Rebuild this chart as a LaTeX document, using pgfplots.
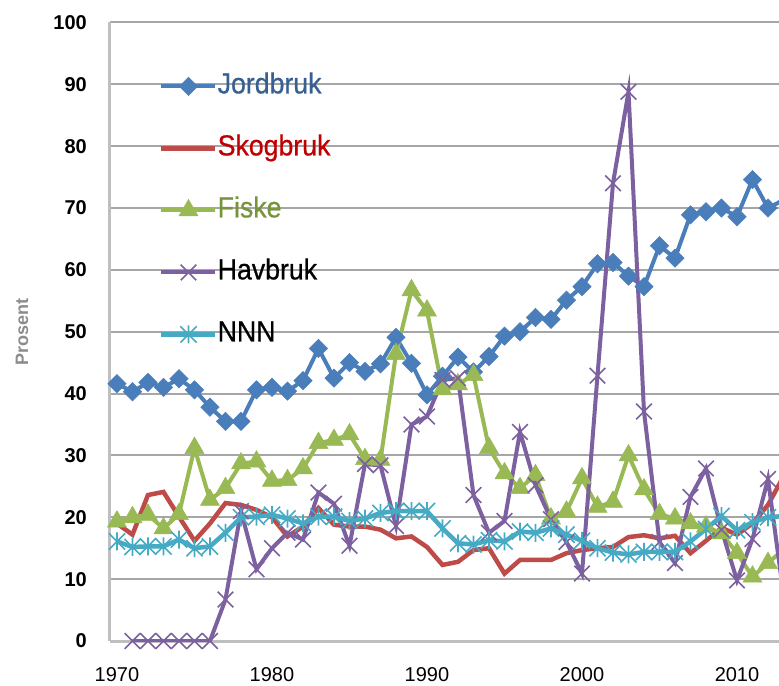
\documentclass[border=0pt]{standalone}
\usepackage{fontspec}
\setmainfont{Liberation Sans}
\newfontfamily\legfont{Liberation Sans}[FakeStretch=0.92, FakeBold=0.6]
\usepackage{pgfplots}
\pgfplotsset{compat=1.18}
\usepackage{pgfplotstable}
\definecolor{cJ}{HTML}{4A7EBB}
\definecolor{cS}{HTML}{BE4B48}
\definecolor{cF}{HTML}{98B954}
\definecolor{cH}{HTML}{7D60A0}
\definecolor{cN}{HTML}{46AAC5}
\definecolor{tJ}{HTML}{376092}
\definecolor{tS}{HTML}{C00000}
\definecolor{tF}{HTML}{77933C}
\definecolor{gridgray}{HTML}{A6A6A6}
\definecolor{axisgray}{HTML}{BFBFBF}
\definecolor{labelgray}{HTML}{8C8C8C}

\pgfdeclareplotmark{xast}{%
  \pgfpathmoveto{\pgfqpoint{0pt}{-\pgfplotmarksize}}%
  \pgfpathlineto{\pgfqpoint{0pt}{\pgfplotmarksize}}%
  \pgfpathmoveto{\pgfqpoint{-.9\pgfplotmarksize}{-.9\pgfplotmarksize}}%
  \pgfpathlineto{\pgfqpoint{.9\pgfplotmarksize}{.9\pgfplotmarksize}}%
  \pgfpathmoveto{\pgfqpoint{-.9\pgfplotmarksize}{.9\pgfplotmarksize}}%
  \pgfpathlineto{\pgfqpoint{.9\pgfplotmarksize}{-.9\pgfplotmarksize}}%
  \pgfusepathqstroke}

\pgfplotstableread{
year jord skog fiske hav nnn
1970 41.6 19.0 19.3 nan 16.1
1971 40.3 17.2 20.0 0 15.2
1972 41.8 23.6 20.4 0 15.3
1973 41.0 24.1 18.2 0 15.3
1974 42.4 20.1 20.5 0 16.4
1975 40.6 16.2 31.2 0 15.0
1976 37.8 19.0 22.8 0 15.3
1977 35.5 22.3 24.7 6.7 17.5
1978 35.5 22.0 28.7 21.0 20.0
1979 40.6 21.2 29.0 11.6 20.1
1980 41.0 20.0 25.9 15.0 20.4
1981 40.4 16.9 26.0 17.5 19.8
1982 42.1 18.5 27.9 16.4 19.0
1983 47.3 21.5 32.0 24.0 20.1
1984 42.5 18.8 32.5 22.2 20.1
1985 45.0 18.5 33.4 15.4 19.4
1986 43.6 18.5 29.4 28.6 19.8
1987 44.8 18.0 29.3 28.4 20.7
1988 49.1 16.6 46.4 18.6 21.0
1989 44.9 16.9 56.7 35.0 21.0
1990 39.8 15.2 53.4 36.3 21.0
1991 42.8 12.3 40.7 42.2 18.2
1992 45.9 12.8 41.5 42.5 15.8
1993 43.5 14.7 43.0 23.6 15.6
1994 46.0 15.0 31.2 17.5 16.3
1995 49.3 10.9 27.1 19.4 16.1
1996 50.0 13.1 24.7 33.8 17.7
1997 52.3 13.1 26.8 25.2 17.5
1998 52.0 13.1 19.8 19.7 18.2
1999 55.1 14.2 20.9 16.0 17.2
2000 57.3 14.7 26.3 10.9 16.2
2001 61.0 15.0 21.7 42.9 15.0
2002 61.2 15.2 22.5 74.0 14.3
2003 59.0 16.8 30.0 88.8 14.0
2004 57.3 17.1 24.5 37.1 14.4
2005 63.9 16.6 20.5 16.0 14.4
2006 61.9 17.0 19.8 12.6 14.4
2007 68.9 14.2 19.0 23.3 16.1
2008 69.4 16.2 18.5 27.9 18.1
2009 70.0 18.3 17.4 18.0 20.2
2010 68.6 17.2 14.2 9.8 17.9
2011 74.6 19.0 10.4 16.5 19.2
2012 70.0 22.0 12.6 26.2 20.0
2013 71.3 26.6 14.8 7.5 20.2
}\data

\begin{document}
\begin{tikzpicture}
\useasboundingbox (-110bp,-45bp) rectangle (669bp,641bp);
\begin{axis}[
  scale only axis, width=669bp, height=618.5bp,
  xmin=1969.55, xmax=2012.71, ymin=0, ymax=100,
  axis x line*=bottom, axis y line*=left,
  axis line style={-, draw=axisgray, line width=3bp},
  ymajorgrids, major grid style={draw=gridgray, line width=2bp},
  major tick length=0pt, tick style={draw=none},
  xtick={1970,1980,1990,2000,2010},
  xticklabels={1970,1980,1990,2000,2010},
  ytick={0,10,...,100},
  /pgf/number format/assume math mode=true,
  xticklabel style={font=\fontsize{20bp}{24bp}\selectfont, anchor=base, inner sep=0pt, yshift=-40bp},
  yticklabel style={font=\bfseries\fontsize{20bp}{24bp}\selectfont, anchor=east, inner sep=0pt, xshift=-23bp},
  ylabel={Prosent},
  every axis y label/.style={at={(axis description cs:-0.1316,0.5)}, anchor=center, rotate=90, font=\bfseries\fontsize{18bp}{22bp}\selectfont, text=labelgray},
  legend cell align=left,
  legend image code/.code={\draw[mark repeat=2,mark phase=2,#1] plot coordinates {(0bp,0bp) (27bp,0bp) (54bp,0bp)};},
  legend style={at={(axis description cs:0.0733,0.918)}, anchor=north west, draw=none, fill=none, inner sep=0pt,
    font=\legfont\fontsize{29bp}{33bp}\selectfont, row sep=36bp, column sep=0bp,
    nodes={inner sep=0pt, text height=20bp, text depth=6bp}},
]
\addplot[cJ, line width=4bp, mark=square*, mark size=6.5bp, mark options={rotate=45, solid, fill=cJ, draw=cJ, line width=0.5bp}] table[x=year, y=jord] {\data};
\addlegendentry{\textcolor{tJ}{Jordbruk}}
\addplot[cS, line width=4.5bp, no markers] table[x=year, y=skog] {\data};
\addlegendentry{\textcolor{tS}{Skogbruk}}
\addplot[cF, line width=4bp, mark=triangle*, mark size=11bp, mark options={solid, fill=cF, draw=cF, line width=0.5bp}] table[x=year, y=fiske] {\data};
\addlegendentry{\textcolor{tF}{Fiske}}
\addplot[cH, line width=4bp, mark=x, mark size=11bp, mark options={solid, draw=cH, line width=1.6bp}] table[x=year, y=hav] {\data};
\addlegendentry{Havbruk}
\addplot[cN, line width=4.5bp, mark=xast, mark size=9bp, mark options={solid, draw=cN, line width=1.6bp}] table[x=year, y=nnn] {\data};
\addlegendentry{NNN}
\end{axis}
\end{tikzpicture}
\end{document}
